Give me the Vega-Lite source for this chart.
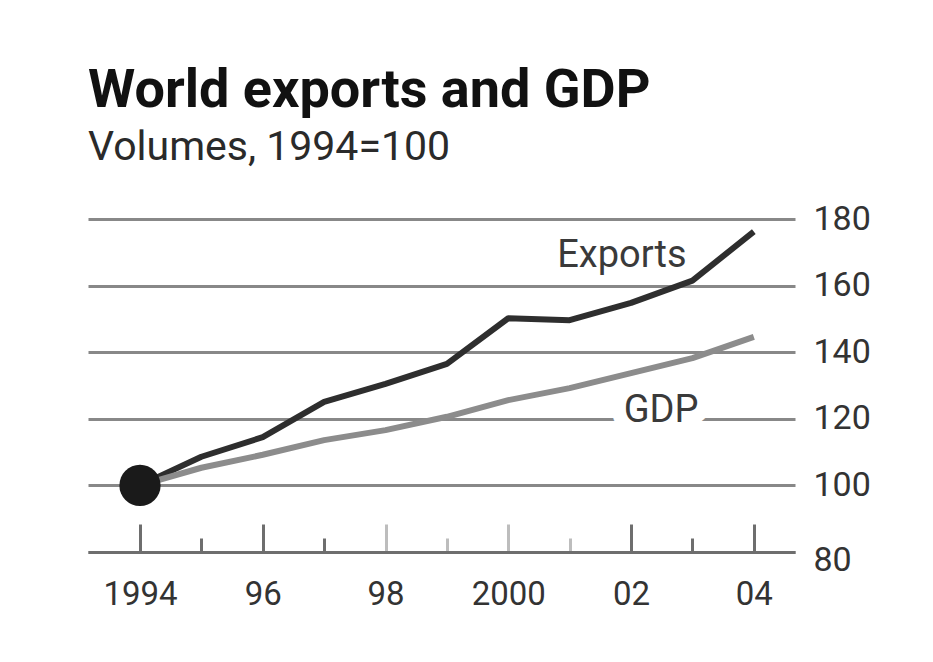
{
  "$schema": "https://vega.github.io/schema/vega-lite/v6.json",
  "autosize": {"type": "none"},
  "padding": {"left": 88, "top": 219, "right": 138, "bottom": 110},
  "width": 707,
  "height": 333,
  "background": "#ffffff",
  "title": {
    "text": "World exports and GDP",
    "subtitle": "Volumes, 1994=100",
    "anchor": "start",
    "frame": "group",
    "font": "Roboto",
    "fontSize": 54,
    "fontWeight": "bold",
    "color": "#111111",
    "subtitleFont": "Roboto",
    "subtitleFontSize": 41,
    "subtitleColor": "#2a2a2a",
    "subtitlePadding": 10,
    "offset": 34
  },
  "datasets": {
    "series": [
      {"year": 1994, "series": "Exports", "value": 100},
      {"year": 1995, "series": "Exports", "value": 108.6},
      {"year": 1996, "series": "Exports", "value": 114.5},
      {"year": 1997, "series": "Exports", "value": 125.1},
      {"year": 1998, "series": "Exports", "value": 130.5},
      {"year": 1999, "series": "Exports", "value": 136.5},
      {"year": 2000, "series": "Exports", "value": 150.2},
      {"year": 2001, "series": "Exports", "value": 149.6},
      {"year": 2002, "series": "Exports", "value": 154.8},
      {"year": 2003, "series": "Exports", "value": 161.5},
      {"year": 2004, "series": "Exports", "value": 176.2},
      {"year": 1994, "series": "GDP", "value": 100},
      {"year": 1995, "series": "GDP", "value": 105.3},
      {"year": 1996, "series": "GDP", "value": 109.2},
      {"year": 1997, "series": "GDP", "value": 113.6},
      {"year": 1998, "series": "GDP", "value": 116.6},
      {"year": 1999, "series": "GDP", "value": 120.6},
      {"year": 2000, "series": "GDP", "value": 125.6},
      {"year": 2001, "series": "GDP", "value": 129.2},
      {"year": 2002, "series": "GDP", "value": 133.7},
      {"year": 2003, "series": "GDP", "value": 138.2},
      {"year": 2004, "series": "GDP", "value": 144.6}
    ],
    "labels": [
      {"year": 2001.85, "value": 165.6, "label": "Exports", "series": "Exports"},
      {"year": 2002.49, "value": 119.0, "label": "GDP", "series": "GDP"}
    ]
  },
  "layer": [
    {
      "data": {"name": "labels"},
      "transform": [{"filter": "datum.series == 'GDP'"}],
      "mark": {"type": "text", "align": "center", "baseline": "alphabetic", "font": "Roboto", "fontSize": 38, "fill": "#ffffff", "stroke": "#ffffff", "strokeWidth": 28, "strokeJoin": "round"},
      "encoding": {
        "x": {"field": "year", "type": "quantitative"},
        "y": {"field": "value", "type": "quantitative"},
        "text": {"field": "label"}
      }
    },
    {
      "data": {"name": "series"},
      "mark": {"type": "line", "strokeWidth": 6, "strokeJoin": "round"},
      "encoding": {
        "x": {
          "field": "year", "type": "quantitative",
          "scale": {"domain": [1993.153, 2004.671], "nice": false, "zero": false},
          "axis": {
            "title": null,
            "values": [1994, 1995, 1996, 1997, 1998, 1999, 2000, 2001, 2002, 2003, 2004],
            "grid": false,
            "domain": true,
            "domainColor": "#6e6e6e",
            "domainWidth": 3,
            "ticks": true,
            "tickWidth": 3,
            "tickSize": {"expr": "datum.value % 2 == 0 ? -28 : -14"},
            "tickColor": {"expr": "(datum.value >= 1998 && datum.value <= 2001) ? '#bdbdbd' : '#6e6e6e'"},
            "labelExpr": "datum.value % 2 == 1 ? '' : (datum.value == 1994 || datum.value == 2000) ? '' + datum.value : slice('' + datum.value, 2)",
            "labelFont": "Roboto",
            "labelFontSize": 33,
            "labelColor": "#333333",
            "labelPadding": 54,
            "labelFlush": false,
            "labelOverlap": false
          }
        },
        "y": {
          "field": "value", "type": "quantitative",
          "scale": {"domain": [80, 180], "nice": false, "zero": false},
          "axis": {
            "title": null,
            "orient": "right",
            "values": [80, 100, 120, 140, 160, 180],
            "grid": true,
            "gridColor": "#888888",
            "gridWidth": 3,
            "domain": false,
            "ticks": false,
            "labelFont": "Roboto",
            "labelFontSize": 34,
            "labelColor": "#333333",
            "labelPadding": 18,
            "labelOffset": {"expr": "datum.value == 80 ? 8 : 0"},
            "labelFlush": false,
            "labelOverlap": false
          }
        },
        "color": {
          "field": "series", "type": "nominal",
          "scale": {"domain": ["Exports", "GDP"], "range": ["#2e2e2e", "#8c8c8c"]},
          "legend": null
        }
      }
    },
    {
      "data": {"name": "series"},
      "transform": [{"filter": "datum.year == 1994 && datum.series == 'Exports'"}],
      "mark": {"type": "circle", "size": 1700, "opacity": 1, "color": "#1a1a1a"},
      "encoding": {
        "x": {"field": "year", "type": "quantitative"},
        "y": {"field": "value", "type": "quantitative"}
      }
    },
    {
      "data": {"name": "labels"},
      "mark": {"type": "text", "align": "center", "baseline": "alphabetic", "font": "Roboto", "fontSize": 38},
      "encoding": {
        "x": {"field": "year", "type": "quantitative"},
        "y": {"field": "value", "type": "quantitative"},
        "text": {"field": "label"},
        "color": {"value": "#3a3a3a"}
      }
    }
  ],
  "config": {"view": {"stroke": null}}
}
